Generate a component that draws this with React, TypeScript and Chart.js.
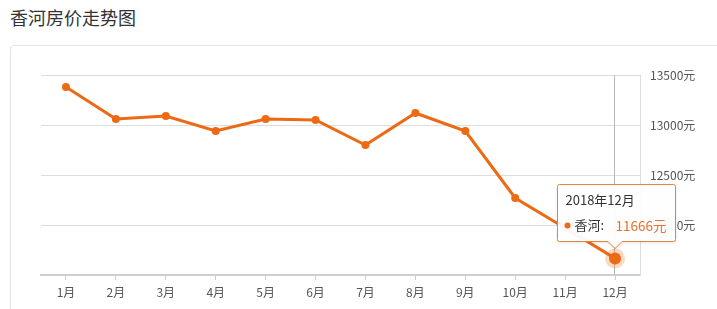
import React, { useEffect, useRef } from "react";
import { Chart, registerables } from "chart.js";

Chart.register(...registerables);

const titleText = "香河房价走势图";
const seriesName = "香河";
const months = ["1月", "2月", "3月", "4月", "5月", "6月", "7月", "8月", "9月", "10月", "11月", "12月"];
const prices = [13380, 13060, 13090, 12940, 13060, 13050, 12800, 13120, 12940, 12270, 11970, 11666];
const yMin = 11500;
const yMax = 13500;
const yStep = 500;
const tooltipIndex = 11;
const tooltipTitle = "2018年12月";

const ORANGE = "#ec6a13";
const FONT = "'Noto Sans CJK SC', 'Noto Sans', sans-serif";

const tooltipPlugin = {
  id: "staticTooltip",
  beforeDatasetsDraw(chart: any) {
    const pt = chart.getDatasetMeta(0).data[tooltipIndex];
    const { ctx, chartArea } = chart;
    ctx.save();
    ctx.strokeStyle = "#b8b8b8";
    ctx.lineWidth = 1;
    ctx.beginPath();
    ctx.moveTo(Math.round(pt.x) - 0.5, chartArea.top);
    ctx.lineTo(Math.round(pt.x) - 0.5, chartArea.bottom);
    ctx.stroke();
    ctx.restore();
  },
  afterDraw(chart: any) {
    const pt = chart.getDatasetMeta(0).data[tooltipIndex];
    const ctx = chart.ctx;
    const x = pt.x;
    const y = pt.y;
    ctx.save();
    // highlighted point
    ctx.fillStyle = "rgba(236,106,19,0.25)";
    ctx.beginPath();
    ctx.arc(x, y, 10, 0, Math.PI * 2);
    ctx.fill();
    ctx.fillStyle = ORANGE;
    ctx.beginPath();
    ctx.arc(x, y, 6, 0, Math.PI * 2);
    ctx.fill();

    // tooltip box
    const w = 118;
    const h = 57;
    const left = Math.round(x - 58) + 0.5;
    const top = Math.round(y - 74) + 0.5;
    const caretX = x;
    const caretH = 7;
    ctx.beginPath();
    ctx.moveTo(left + 2, top);
    ctx.lineTo(left + w - 2, top);
    ctx.quadraticCurveTo(left + w, top, left + w, top + 2);
    ctx.lineTo(left + w, top + h - 2);
    ctx.quadraticCurveTo(left + w, top + h, left + w - 2, top + h);
    ctx.lineTo(caretX + caretH, top + h);
    ctx.lineTo(caretX, top + h + caretH);
    ctx.lineTo(caretX - caretH, top + h);
    ctx.lineTo(left + 2, top + h);
    ctx.quadraticCurveTo(left, top + h, left, top + h - 2);
    ctx.lineTo(left, top + 2);
    ctx.quadraticCurveTo(left, top, left + 2, top);
    ctx.closePath();
    ctx.shadowColor = "rgba(0,0,0,0.15)";
    ctx.shadowBlur = 3;
    ctx.shadowOffsetY = 1;
    ctx.fillStyle = "rgba(255,255,255,0.95)";
    ctx.fill();
    ctx.shadowColor = "transparent";
    ctx.strokeStyle = "#e8833a";
    ctx.lineWidth = 1;
    ctx.stroke();

    ctx.textBaseline = "middle";
    ctx.textAlign = "left";
    ctx.font = `13px ${FONT}`;
    ctx.fillStyle = "#333333";
    ctx.fillText(tooltipTitle, left + 8, top + 16);

    ctx.fillStyle = ORANGE;
    ctx.beginPath();
    ctx.arc(left + 10, top + 41, 3, 0, Math.PI * 2);
    ctx.fill();

    ctx.fillStyle = "#333333";
    ctx.fillText(`${seriesName}:`, left + 17, top + 41);
    ctx.font = `13.5px ${FONT}`;
    ctx.fillStyle = "#e8722d";
    ctx.fillText(`${prices[tooltipIndex]}元`, left + 58, top + 41);
    ctx.restore();
  },
};

export default function App() {
  const ref = useRef<HTMLCanvasElement | null>(null);

  useEffect(() => {
    if (!ref.current) return;
    const chart = new Chart(ref.current, {
      type: "line",
      data: {
        labels: months,
        datasets: [
          {
            label: seriesName,
            data: prices,
            borderColor: ORANGE,
            backgroundColor: ORANGE,
            borderWidth: 3,
            pointRadius: 4,
            pointBackgroundColor: ORANGE,
            pointBorderWidth: 0,
            tension: 0,
            fill: false,
          },
        ],
      },
      options: {
        responsive: false,
        animation: false,
        events: [],
        layout: { padding: { left: 41, top: 75, right: 0, bottom: 0 } },
        plugins: {
          legend: { display: false },
          tooltip: { enabled: false },
          title: { display: false },
        },
        scales: {
          x: {
            type: "category",
            offset: true,
            grid: {
              display: true,
              drawOnChartArea: false,
              drawTicks: true,
              tickLength: 5,
              offset: false,
              color: "#cccccc",
            },
            border: { display: true, color: "#cfcfcf", width: 2 },
            ticks: {
              color: "#555555",
              font: { size: 12, family: FONT },
              padding: 5,
              maxRotation: 0,
              autoSkip: false,
            },
            afterFit(scale: any) {
              scale.height = 34;
            },
          },
          y: {
            position: "right",
            min: yMin,
            max: yMax,
            ticks: {
              stepSize: yStep,
              color: "#555555",
              font: { size: 12, family: FONT },
              padding: 10,
              callback: (v: any) => (Number(v) === yMin ? "" : `${v}元`),
            },
            grid: { color: "#dddddd", drawTicks: false, lineWidth: 1 },
            border: { display: true, color: "#dddddd" },
            afterFit(scale: any) {
              scale.width = 77;
            },
          },
        },
      },
      plugins: [tooltipPlugin],
    });
    return () => chart.destroy();
  }, []);

  return (
    <div style={{ position: "absolute", left: 0, top: 0, width: 717, height: 309, overflow: "hidden", background: "#ffffff" }}>
      <div
        style={{
          position: "absolute",
          left: 10,
          top: 5,
          fontFamily: FONT,
          fontSize: 18,
          lineHeight: "24px",
          color: "#333333",
        }}
      >
        {titleText}
      </div>
      <div
        style={{
          position: "absolute",
          left: 10,
          top: 45,
          width: 760,
          height: 320,
          border: "1px solid #e3e3e3",
          borderRadius: 4,
          boxSizing: "border-box",
        }}
      />
      <canvas ref={ref} width={717} height={309} style={{ position: "absolute", left: 0, top: 0 }} />
    </div>
  );
}
